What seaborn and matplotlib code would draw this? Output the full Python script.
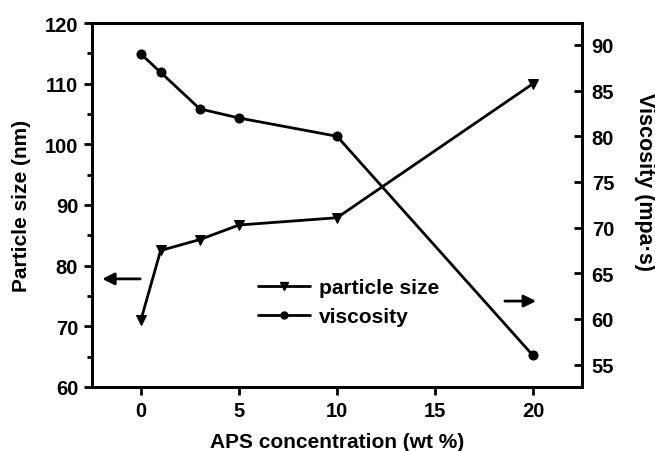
import matplotlib
matplotlib.use("Agg")
import matplotlib.pyplot as plt
from matplotlib.lines import Line2D
from matplotlib.ticker import MultipleLocator
import seaborn as sns
import pandas as pd

# APS concentration (wt %)
aps = [0, 1, 3, 5, 10, 20]
# particle size (nm)
particle_size = [71.1, 82.5, 84.3, 86.7, 87.9, 110.0]
# viscosity (mpa·s)
viscosity = [89.0, 87.0, 83.0, 82.0, 80.0, 56.0]

sns.set_theme(style="ticks")
plt.rcParams["font.family"] = ["Liberation Sans", "DejaVu Sans"]
plt.rcParams["font.weight"] = "bold"
plt.rcParams["text.color"] = "black"
plt.rcParams["axes.labelcolor"] = "black"
plt.rcParams["xtick.color"] = "black"
plt.rcParams["ytick.color"] = "black"

df = pd.DataFrame({"aps": aps, "size": particle_size, "visc": viscosity})

fig = plt.figure(figsize=(6.55, 4.52), dpi=100)
ax = fig.add_axes([0.1405, 0.1416, 0.748, 0.8053])
ax2 = ax.twinx()

lw = 2.0
sns.lineplot(data=df, x="aps", y="size", ax=ax, color="black", lw=lw,
             marker="v", markersize=7, markeredgecolor="black")
sns.lineplot(data=df, x="aps", y="visc", ax=ax2, color="black", lw=lw,
             marker="o", markersize=6.5, markeredgecolor="black")

ax.set_xlim(-2.5, 22.5)
ax.set_ylim(60, 120)
ax2.set_ylim(52.55, 92.4)

ax.xaxis.set_major_locator(MultipleLocator(5))
ax.yaxis.set_major_locator(MultipleLocator(10))
ax.yaxis.set_minor_locator(MultipleLocator(5))
ax2.yaxis.set_major_locator(MultipleLocator(5))

fs = 14.5
lfs = 15
ax.set_xlabel("APS concentration (wt %)", fontsize=lfs, fontweight="bold", labelpad=9)
ax.set_ylabel("Particle size (nm)", fontsize=lfs, fontweight="bold", labelpad=10)
ax2.set_ylabel("Viscosity (mpa·s)", fontsize=15.5, fontweight="bold",
               rotation=270, va="center", ha="center")
ax2.yaxis.set_label_coords(1.127, 0.566)

for a in (ax, ax2):
    for s in a.spines.values():
        s.set_linewidth(2.0)
        s.set_color("black")
    a.tick_params(labelsize=fs, width=2.0, color="black", labelcolor="black")
    for lab in a.get_xticklabels() + a.get_yticklabels():
        lab.set_fontweight("bold")

ax.tick_params(axis="both", which="major", direction="out", length=6, pad=4)
ax.tick_params(axis="y", which="minor", direction="out", length=3.5, width=2.0)
ax.tick_params(axis="x", which="minor", length=0)
ax2.tick_params(axis="y", which="major", direction="in", length=6, pad=7)

# direction arrows pointing to each series' axis
ax.annotate("", xy=(0.015, 0.297), xytext=(0.104, 0.297), xycoords="axes fraction",
            arrowprops=dict(arrowstyle="-|>", color="black", lw=2.0, mutation_scale=18))
ax.annotate("", xy=(0.912, 0.236), xytext=(0.837, 0.236), xycoords="axes fraction",
            arrowprops=dict(arrowstyle="-|>", color="black", lw=2.0, mutation_scale=18))

handles = [
    Line2D([], [], color="black", lw=lw, marker="v", markersize=6),
    Line2D([], [], color="black", lw=lw, marker="o", markersize=5),
]
leg = ax.legend(handles, ["particle size", "viscosity"], loc="center left",
                bbox_to_anchor=(0.30, 0.233), frameon=False, fontsize=lfs,
                handlelength=2.5, handletextpad=0.45, labelspacing=0.45)
for t in leg.get_texts():
    t.set_fontweight("bold")
    t.set_color("black")

fig.savefig("out.png", dpi=100)
